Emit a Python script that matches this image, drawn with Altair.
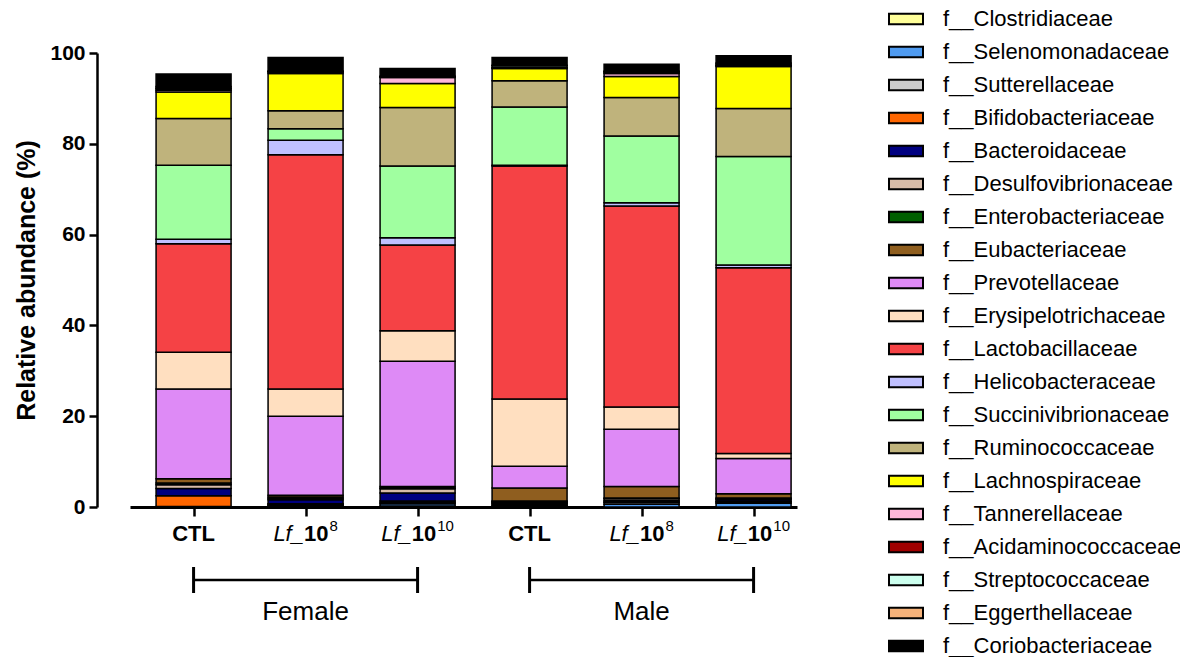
import altair as alt
import pandas as pd

# Bacterial families, listed in stacking order (bottom of each bar first)
families = [
    "f__Clostridiaceae", "f__Selenomonadaceae", "f__Sutterellaceae",
    "f__Bifidobacteriaceae", "f__Bacteroidaceae", "f__Desulfovibrionaceae",
    "f__Enterobacteriaceae", "f__Eubacteriaceae", "f__Prevotellaceae",
    "f__Erysipelotrichaceae", "f__Lactobacillaceae", "f__Helicobacteraceae",
    "f__Succinivibrionaceae", "f__Ruminococcaceae", "f__Lachnospiraceae",
    "f__Tannerellaceae", "f__Acidaminococcaceae", "f__Streptococcaceae",
    "f__Eggerthellaceae", "f__Coriobacteriaceae",
]
colors = [
    "#FFFF99", "#4F9BF0", "#CCCCCC", "#FF6600", "#000080", "#D8BCA8",
    "#005F00", "#8F5E1F", "#DE8AF6", "#FFDFC0", "#F54245", "#C0C0FF",
    "#A0FFA0", "#BFB37C", "#FFFF00", "#FFB8DA", "#A00000", "#CCFFEE",
    "#F5B27A", "#000000",
]

# Groups (one bar each)
sexes = ["Female", "Female", "Female", "Male", "Male", "Male"]
treatments = ["CTL", "Lf_10^8", "Lf_10^10", "CTL", "Lf_10^8", "Lf_10^10"]
label_prefix = ["", "Lf_", "Lf_", "", "Lf_", "Lf_"]
label_base = ["CTL", "10", "10", "CTL", "10", "10"]
label_exp = ["", "8", "10", "", "8", "10"]

# Relative abundance (%) per family, same order as `families`
female_ctl = [0.0, 0.0, 0.1, 2.4, 1.6, 0.8, 0.4, 0.9, 19.8, 8.1, 23.9, 1.0,
              16.3, 10.3, 5.8, 0.4, 0.3, 0.2, 0.3, 2.8]
female_lf8 = [0.2, 0.2, 0.2, 0.1, 0.9, 0.3, 0.3, 0.4, 17.4, 6.0, 51.6, 3.2,
              2.5, 4.0, 8.2, 0.3, 0.1, 0.05, 0.05, 3.0]
female_lf10 = [0.2, 0.5, 0.3, 0.3, 1.8, 0.9, 0.2, 0.3, 27.6, 6.7, 18.9, 1.6,
               15.8, 12.9, 5.3, 1.3, 0.1, 0.1, 0.1, 1.7]
male_ctl = [0.3, 0.2, 0.3, 0.1, 0.2, 0.1, 0.1, 2.9, 4.8, 14.8, 51.3, 0.2,
            12.8, 5.8, 2.7, 0.1, 0.1, 0.4, 0.1, 1.7]
male_lf8 = [0.0, 0.6, 0.4, 0.1, 0.3, 0.4, 0.2, 2.5, 12.6, 4.9, 44.3, 0.7,
            14.7, 8.5, 4.6, 0.7, 0.2, 0.2, 0.1, 1.5]
male_lf10 = [0.0, 0.8, 0.3, 0.1, 0.4, 0.2, 0.2, 0.9, 7.8, 1.1, 40.9, 0.6,
             23.9, 10.6, 9.2, 0.2, 0.1, 0.3, 0.2, 1.6]

group_values = [female_ctl, female_lf8, female_lf10, male_ctl, male_lf8, male_lf10]

FONT = "Liberation Sans"

rows = []
for pos, vals in enumerate(group_values):
    for rank, (fam, v) in enumerate(zip(families, vals)):
        if v > 0:
            rows.append({"pos": pos, "sex": sexes[pos], "treatment": treatments[pos],
                         "family": fam, "rank": rank, "value": v})
bars_df = pd.DataFrame(rows)

labels_df = pd.DataFrame({
    "pos": list(range(6)),
    "prefix": label_prefix,
    "base": label_base,
    "exp": label_exp,
})

bracket_df = pd.DataFrame({
    "sex": ["Female", "Male"],
    "start": [0, 3],
    "end": [2, 5],
})
bracket_df["mid"] = (bracket_df["start"] + bracket_df["end"]) / 2

x_scale = alt.Scale(domain=[-0.523, 5.343], nice=False, zero=False)

bars = alt.Chart(bars_df).mark_bar(width=75, stroke="black", strokeWidth=1.5).encode(
    x=alt.X("pos:Q", scale=x_scale,
            axis=alt.Axis(values=[0, 1, 2, 3, 4, 5], labels=False, title=None,
                          grid=False, tickSize=9, tickWidth=2.5, tickColor="black",
                          domainWidth=3, domainColor="black")),
    y=alt.Y("value:Q", stack="zero",
            scale=alt.Scale(domain=[0, 100], nice=False),
            axis=alt.Axis(values=[0, 20, 40, 60, 80, 100], grid=False,
                          title="Relative abundance (%)", titleFont=FONT,
                          titleFontSize=25, titleFontWeight="bold", titleColor="black",
                          titlePadding=10,
                          labelFont=FONT, labelFontSize=21, labelFontWeight="bold",
                          labelColor="black", labelPadding=4,
                          tickSize=8, tickWidth=2.5, tickColor="black",
                          domainWidth=2.5, domainColor="black", offset=33)),
    color=alt.Color("family:N", scale=alt.Scale(domain=families, range=colors),
                    legend=alt.Legend(title=None, orient="none", legendX=758, legendY=-52,
                                      symbolType="M-1,-0.31L1,-0.31L1,0.31L-1,0.31Z",
                                      symbolSize=1156, symbolStrokeColor="black",
                                      symbolStrokeWidth=2, symbolOpacity=1,
                                      labelFont=FONT, labelFontSize=22, labelColor="black",
                                      labelOffset=19, rowPadding=4, labelLimit=400,
                                      padding=0)),
    order=alt.Order("rank:Q", sort="ascending"),
)

lab = alt.Chart(labels_df)
ctl_text = lab.transform_filter("datum.prefix == ''").mark_text(
    font=FONT, fontSize=22, fontWeight="bold", align="center", baseline="alphabetic"
).encode(x=alt.X("pos:Q", scale=x_scale), y=alt.value(488), text="base:N")

e8 = lab.transform_filter("datum.exp == '8'")
e10 = lab.transform_filter("datum.exp == '10'")


def composite(src, pre_dx, base_dx, exp_dx):
    pre = src.mark_text(font=FONT, fontSize=22, fontStyle="italic", align="right",
                        baseline="alphabetic", dx=pre_dx).encode(
        x=alt.X("pos:Q", scale=x_scale), y=alt.value(488), text="prefix:N")
    base = src.mark_text(font=FONT, fontSize=22, fontWeight="bold", align="center",
                         baseline="alphabetic", dx=base_dx).encode(
        x=alt.X("pos:Q", scale=x_scale), y=alt.value(488), text="base:N")
    sup = src.mark_text(font=FONT, fontSize=15, align="left",
                        baseline="alphabetic", dx=exp_dx).encode(
        x=alt.X("pos:Q", scale=x_scale), y=alt.value(478), text="exp:N")
    return pre + base + sup


lab8 = composite(e8, -1.6, 10.6, 23.9)
lab10 = composite(e10, -5.8, 6.45, 19.7)

br = alt.Chart(bracket_df)
bracket_line = br.mark_rule(color="black", strokeWidth=2.5).encode(
    x=alt.X("start:Q", scale=x_scale), x2="end:Q", y=alt.value(527))
cap_left = br.mark_rule(color="black", strokeWidth=3).encode(
    x=alt.X("start:Q", scale=x_scale), y=alt.value(514), y2=alt.value(540))
cap_right = br.mark_rule(color="black", strokeWidth=3).encode(
    x=alt.X("end:Q", scale=x_scale), y=alt.value(514), y2=alt.value(540))
sex_text = br.mark_text(font=FONT, fontSize=26, align="center", baseline="middle").encode(
    x=alt.X("mid:Q", scale=x_scale), y=alt.value(559), text="sex:N")

chart = alt.layer(
    bars, ctl_text, lab8, lab10, bracket_line, cap_left, cap_right, sex_text
).properties(
    width=667, height=454,
    padding={"left": 130, "top": 53, "right": 383, "bottom": 150},
    autosize=alt.AutoSizeParams(type="none"),
).configure(background="white").configure_view(stroke=None)

chart.save("out.html", embed_options={"renderer": "svg", "actions": False})
